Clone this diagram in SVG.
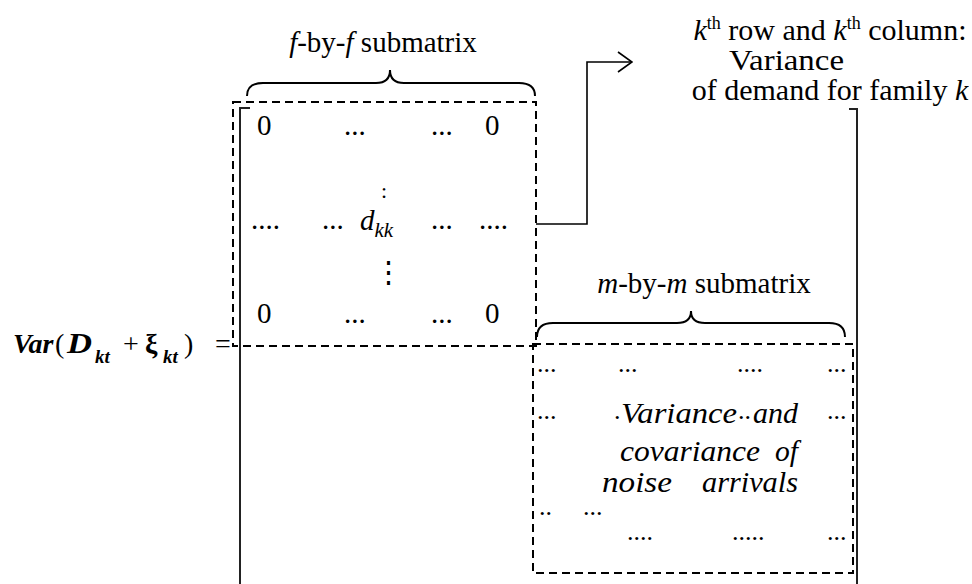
<svg xmlns="http://www.w3.org/2000/svg" width="972" height="584" viewBox="0 0 972 584">
  <defs>
    <style>
      text { font-family: "Liberation Serif", "DejaVu Serif", "Noto Serif", "Times New Roman", Times, serif; fill: #000; }
      .it { font-style: italic; }
      .bi { font-style: italic; font-weight: bold; }
      .b { font-weight: bold; }
      .m { font-size: 29px; }
      .big { font-size: 30px; }
      .note { font-size: 30px; }
      .dots { font-size: 26px; }
      .brk { fill: none; stroke: #222; stroke-width: 2; }
      .dash { fill: none; stroke: #000; stroke-width: 2; stroke-dasharray: 8 5; }
      .brace { fill: none; stroke: #000; stroke-width: 2; }
      .conn { fill: none; stroke: #000; stroke-width: 1.6; }
    </style>
    <marker id="open-arrow" viewBox="0 0 16 22" refX="15" refY="11" markerWidth="16" markerHeight="22" markerUnits="userSpaceOnUse" orient="auto">
      <path d="M1,1 L15,11 L1,21" fill="none" stroke="#000" stroke-width="1.6"/>
    </marker>
  </defs>

  <rect width="972" height="584" fill="#fff"/>

  <g opacity="0.999">
  <!-- left-hand side of the equation -->
  <g id="lhs">
    <text y="353" font-size="28"><tspan class="bi" x="13">Var</tspan><tspan x="55">(</tspan></text>
    <text class="bi" x="67" y="353" font-size="29" textLength="25" lengthAdjust="spacingAndGlyphs">D</text>
    <text class="bi" x="95" y="363" font-size="19">kt</text>
    <text y="353" font-size="28"><tspan x="123">+</tspan><tspan class="b" x="145">ξ</tspan></text>
    <text class="bi" x="163" y="363" font-size="19">kt</text>
    <text y="353" font-size="28"><tspan x="184">)</tspan><tspan x="215">=</tspan></text>
  </g>

  <!-- outer matrix brackets -->
  <g id="matrix-bracket">
    <path class="brk" d="M250,108 H240 V584"/>
    <path class="brk" d="M849,109 H857 V584"/>
  </g>

  <!-- f-by-f block with d_kk on the diagonal -->
  <g id="ff-block">
    <path class="brace" d="M247,96 Q247,83 263,83 L376,83 Q390,83 390,70 Q390,83 404,83 L519,83 Q535,83 535,96"/>
    <text class="m" x="383" y="52" text-anchor="middle"><tspan class="it">f</tspan>-by-<tspan class="it">f</tspan> submatrix</text>
    <rect class="dash" x="233" y="102" width="303" height="244"/>
    <text class="m" y="135"><tspan x="257">0</tspan><tspan x="344">...</tspan><tspan x="431">...</tspan><tspan x="485">0</tspan></text>
    <text x="384" y="198" font-size="22" text-anchor="middle">:</text>
    <text class="m" y="229"><tspan x="251">....</tspan><tspan x="322">...</tspan><tspan x="431">...</tspan><tspan x="479">....</tspan></text>
    <text class="m it" x="360" y="230">d<tspan font-size="21" y="237">kk</tspan></text>
    <text x="388" y="282" font-size="29" text-anchor="middle">⋮</text>
    <text class="m" y="323"><tspan x="257">0</tspan><tspan x="344">...</tspan><tspan x="431">...</tspan><tspan x="485">0</tspan></text>
  </g>

  <!-- m-by-m block: noise arrivals -->
  <g id="mm-block">
    <path class="brace" d="M537,337 Q537,323 553,323 L677,323 Q691,323 691,311 Q691,323 705,323 L829,323 Q845,323 845,337"/>
    <text class="m" x="704" y="293" text-anchor="middle"><tspan class="it">m</tspan>-by-<tspan class="it">m</tspan> submatrix</text>
    <rect class="dash" x="533" y="344" width="320" height="229"/>
    <text class="dots" y="372"><tspan x="537">...</tspan><tspan x="618">...</tspan><tspan x="737">....</tspan><tspan x="827">...</tspan></text>
    <text class="dots" y="419"><tspan x="537">...</tspan><tspan x="614">.</tspan><tspan x="738">..</tspan><tspan x="827">...</tspan></text>
    <text class="big it" x="621" y="423" textLength="116" lengthAdjust="spacingAndGlyphs">Variance</text>
    <text class="big it" x="753" y="423" textLength="45" lengthAdjust="spacingAndGlyphs">and</text>
    <text class="big it" x="620" y="461" textLength="140" lengthAdjust="spacingAndGlyphs">covariance</text>
    <text class="big it" x="775" y="461" textLength="23" lengthAdjust="spacingAndGlyphs">of</text>
    <text class="big it" x="602" y="492" textLength="70" lengthAdjust="spacingAndGlyphs">noise</text>
    <text class="big it" x="702" y="492" textLength="96" lengthAdjust="spacingAndGlyphs">arrivals</text>
    <text class="dots" y="515"><tspan x="539">..</tspan><tspan x="583">...</tspan></text>
    <text class="dots" y="540"><tspan x="627">....</tspan><tspan x="732">.....</tspan><tspan x="827">...</tspan></text>
  </g>

  <!-- explanatory note for the k-th row and column -->
  <g id="kth-note">
    <text class="note" x="830" y="40" text-anchor="middle"><tspan class="it">k</tspan><tspan font-size="18" dy="-11">th</tspan><tspan dy="11"> row and </tspan><tspan class="it">k</tspan><tspan font-size="18" dy="-11">th</tspan><tspan dy="11"> column:</tspan></text>
    <text class="note" x="729" y="70" font-size="31" textLength="115" lengthAdjust="spacingAndGlyphs">Variance</text>
    <text class="note" x="830" y="100" text-anchor="middle">of demand for family <tspan class="it">k</tspan></text>
  </g>

  <!-- connector from the diagonal row to the note -->
  <g id="connectors">
    <path class="conn" d="M536,224 H587 V62 H632" marker-end="url(#open-arrow)"/>
  </g>
  </g>
</svg>
